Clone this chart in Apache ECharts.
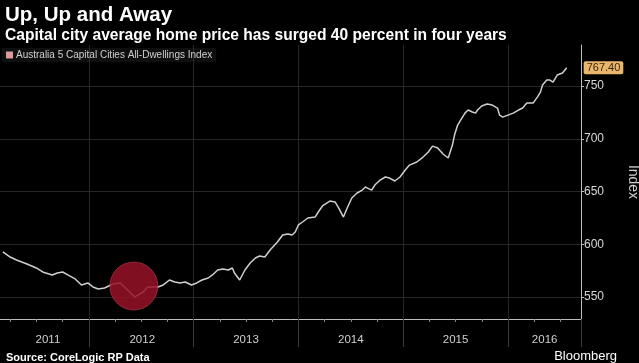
<!DOCTYPE html>
<html>
<head>
<meta charset="utf-8">
<script src="https://cdn.jsdelivr.net/npm/echarts@6/dist/echarts.min.js"></script>
<style>
html,body{margin:0;padding:0;background:#000;}
#chart{width:639px;height:363px;}
</style>
</head>
<body>
<div id="chart"></div>
<script>
// ---- data ----
const seriesName = 'Australia 5 Capital Cities All-Dwellings Index';
const dates = [
  2011.18, 2011.25, 2011.31, 2011.41, 2011.50, 2011.56, 2011.65, 2011.70, 2011.75, 2011.80,
  2011.87, 2011.93, 2011.99, 2012.04, 2012.09, 2012.15, 2012.23, 2012.30, 2012.34, 2012.44,
  2012.52, 2012.56, 2012.66, 2012.71, 2012.77, 2012.82, 2012.87, 2012.92, 2012.98, 2013.03,
  2013.08, 2013.14, 2013.18, 2013.23, 2013.28, 2013.33, 2013.37, 2013.39, 2013.44, 2013.49,
  2013.54, 2013.59, 2013.63, 2013.68, 2013.73, 2013.80, 2013.85, 2013.90, 2013.94, 2013.97,
  2014.00, 2014.04, 2014.09, 2014.16, 2014.19, 2014.23, 2014.30, 2014.35, 2014.38, 2014.43,
  2014.47, 2014.51, 2014.56, 2014.61, 2014.64, 2014.66, 2014.70, 2014.73, 2014.78, 2014.83,
  2014.87, 2014.92, 2014.97, 2015.02, 2015.06, 2015.13, 2015.19, 2015.24, 2015.28, 2015.33,
  2015.38, 2015.43, 2015.47, 2015.49, 2015.52, 2015.56, 2015.59, 2015.62, 2015.66, 2015.69,
  2015.71, 2015.75, 2015.80, 2015.85, 2015.90, 2015.92, 2015.95, 2016.00, 2016.05, 2016.10,
  2016.14, 2016.18, 2016.21, 2016.24, 2016.28, 2016.31, 2016.33, 2016.37, 2016.40, 2016.43,
  2016.47, 2016.52, 2016.56
];
const values = [
  592.7, 587.9, 585.1, 581.3, 577.5, 573.7, 570.9, 572.8, 573.7, 570.9,
  567.1, 561.4, 563.3, 559.5, 557.6, 558.5, 562.3, 563.3, 559.5, 550.0,
  554.7, 559.5, 559.5, 561.4, 566.1, 564.2, 563.3, 564.2, 561.4, 563.3,
  566.1, 568.0, 570.9, 575.6, 576.5, 575.6, 577.5, 572.8, 566.1, 575.6,
  582.2, 587.0, 588.9, 587.9, 594.6, 602.1, 608.8, 609.7, 608.8, 611.6,
  618.3, 621.1, 624.9, 625.8, 630.6, 636.3, 641.0, 640.1, 635.3, 625.8,
  635.3, 643.9, 648.6, 651.4, 654.3, 653.3, 651.4, 656.2, 660.9, 663.8,
  662.8, 660.0, 663.8, 670.4, 675.1, 678.0, 682.7, 687.5, 693.1, 691.3,
  685.6, 681.8, 694.1, 703.6, 713.1, 719.7, 724.4, 727.3, 725.4, 724.4,
  727.3, 731.1, 733.0, 732.0, 729.2, 722.5, 720.6, 722.5, 724.4, 727.3,
  729.2, 733.9, 733.9, 733.9, 739.6, 744.3, 751.0, 755.7, 755.7, 753.8,
  760.5, 762.4, 767.4
];
const yearLabels = ['2011', '2012', '2013', '2014', '2015', '2016'];
const yearLabelPositions = [2011.61, 2012.51, 2013.5, 2014.5, 2015.5, 2016.35];
const yTickValues = [550, 600, 650, 700, 750];
const highlight = [2012.43, 560.4];

// ---- chart ----
const FONT = "'Liberation Sans', Arial, sans-serif";
const chart = echarts.init(document.getElementById('chart'), null, {renderer: 'canvas'});
const lineData = dates.map((d, i) => [d, values[i]]);

chart.setOption({
  backgroundColor: '#000',
  animation: false,
  textStyle: {fontFamily: FONT},
  title: [
    {text: 'Up, Up and Away', left: 0, top: 0,
     textStyle: {color: '#fff', fontSize: 20.5, fontWeight: 'bold', fontFamily: FONT}},
    {text: 'Capital city average home price has surged 40 percent in four years', left: 0, top: 23,
     textStyle: {color: '#fff', fontSize: 15.6, fontWeight: 'bold', fontFamily: FONT}},
    {text: 'Source: CoreLogic RP Data', left: 1, top: 347,
     textStyle: {color: '#fff', fontSize: 11, fontWeight: 'bold', fontFamily: FONT}},
    {text: 'Bloomberg', right: 17, top: 345,
     textStyle: {color: '#fff', fontSize: 13, fontWeight: 'normal', fontFamily: FONT}}
  ],
  legend: {
    left: 2, top: 48,
    padding: [2, 4],
    backgroundColor: 'rgba(60,60,60,0.25)',
    icon: 'rect', itemWidth: 7, itemHeight: 7, itemGap: 4,
    textStyle: {color: '#cfcfcf', fontSize: 10, fontFamily: FONT, padding: [0, 0, 0, -2]},
    data: [{name: seriesName, itemStyle: {color: '#dc9a9a'}}]
  },
  grid: {left: -16, right: 58, top: 45, bottom: 44, containLabel: false, outerBoundsMode: 'none'},
  xAxis: {
    type: 'value',
    min: 2011, max: 2016.697, interval: 1,
    axisLine: {show: true, lineStyle: {color: '#bdbdbd', width: 1}},
    axisTick: {show: true, length: 28, lineStyle: {color: '#3a3a3a'}},
    minorTick: {show: true, splitNumber: 4, length: 3, lineStyle: {color: '#8a8a8a'}},
    splitLine: {show: true, lineStyle: {color: '#262626', width: 1}},
    axisLabel: {
      customValues: yearLabelPositions,
      formatter: v => yearLabels[yearLabelPositions.indexOf(v)] || '',
      color: '#d0d0d0', fontSize: 11.5, margin: 15, fontFamily: FONT
    }
  },
  yAxis: {
    type: 'value', position: 'right',
    min: 529.1, max: 789,
    name: 'Index', nameLocation: 'middle', nameRotate: -90, nameGap: 45,
    nameTextStyle: {color: '#cfcfcf', fontSize: 14, fontFamily: FONT},
    axisLine: {show: true, lineStyle: {color: '#bdbdbd', width: 1}},
    axisTick: {show: true, customValues: yTickValues, length: 3, lineStyle: {color: '#bdbdbd'}},
    splitLine: {show: true, lineStyle: {color: '#262626', width: 1}},
    axisLabel: {customValues: yTickValues, color: '#d8d8d8', fontSize: 12, margin: 3, fontFamily: FONT}
  },
  series: [{
    name: seriesName,
    type: 'line',
    data: lineData,
    showSymbol: false,
    lineStyle: {color: '#cfcfcf', width: 1.5},
    itemStyle: {color: '#cfcfcf'},
    endLabel: {
      show: true,
      formatter: p => p.value[1].toFixed(2),
      distance: 17,
      backgroundColor: '#e9b66c',
      color: '#3a2608',
      fontSize: 11,
      padding: [1, 3],
      borderRadius: 2,
      fontFamily: FONT
    },
    markPoint: {
      symbol: 'circle',
      symbolSize: 48,
      silent: true,
      label: {show: false},
      itemStyle: {color: 'rgba(150,18,40,0.85)', borderColor: 'rgba(210,70,90,0.5)', borderWidth: 1},
      data: [{coord: highlight}]
    }
  }]
});
</script>
</body>
</html>
